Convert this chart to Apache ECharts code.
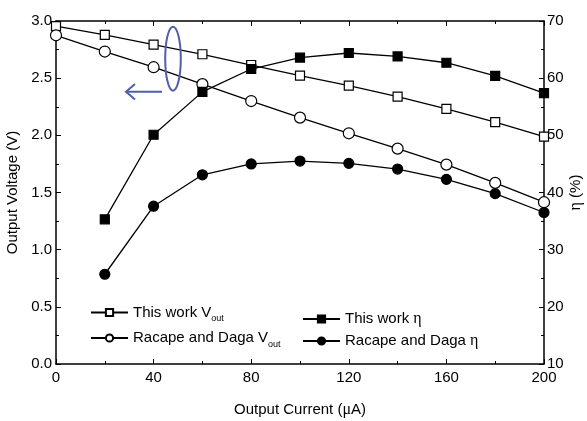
<!DOCTYPE html>
<html>
<head>
<meta charset="utf-8">
<script src="https://cdn.jsdelivr.net/npm/echarts@6/dist/echarts.min.js"></script>
<style>html,body{margin:0;padding:0;background:#fff;}#c{width:587px;height:421px;}</style>
</head>
<body>
<div id="c"></div>
<script>
const currentX = [0, 20, 40, 60, 80, 100, 120, 140, 160, 180, 200];
const thisWorkVout = [2.955, 2.878, 2.793, 2.709, 2.615, 2.522, 2.435, 2.339, 2.231, 2.115, 1.989];
const racapeVout = [2.875, 2.733, 2.596, 2.448, 2.300, 2.155, 2.018, 1.884, 1.744, 1.584, 1.415];
const etaX = [20, 40, 60, 80, 100, 120, 140, 160, 180, 200];
const thisWorkEta = [35.3, 50.1, 57.6, 61.6, 63.6, 64.4, 63.8, 62.7, 60.4, 57.4];
const racapeEta = [25.7, 37.6, 43.1, 45.0, 45.5, 45.1, 44.1, 42.3, 39.8, 36.5];
const leftTicks = { min: 0, max: 3, interval: 0.5 };
const rightTicks = { min: 10, max: 70, interval: 10 };
const xTicks = { min: 0, max: 200, interval: 40 };

const pair = (xs, ys) => xs.map((x, i) => [x, ys[i]]);
const font = 'Liberation Sans';
const serif = 'Liberation Serif';
const blue = '#4f5fa9';

const chart = echarts.init(document.getElementById('c'), null, { renderer: 'canvas' });

function axisBase(extra) {
  return Object.assign({
    axisLine: { show: true, onZero: false, lineStyle: { color: '#000', width: 1.5 } },
    axisTick: { show: true, inside: true, length: 5, lineStyle: { color: '#000', width: 1 } },
    minorTick: { show: true, splitNumber: 2, length: 3, lineStyle: { color: '#000', width: 1 } },
    splitLine: { show: false },
    nameMoveOverlap: false,
    axisLabel: { color: '#000', fontSize: 15, fontFamily: font }
  }, extra);
}

const richText = {
  s: { fontSize: 9, fontFamily: font, color: '#000', verticalAlign: 'bottom', lineHeight: 22 },
  g: { fontSize: 16, fontFamily: serif, color: '#000' }
};

const legendNames = {
  'This work Vout': 'This work V{s|out}',
  'Racape and Daga Vout': 'Racape and Daga V{s|out}',
  'This work eta': 'This work {g|η}',
  'Racape and Daga eta': 'Racape and Daga {g|η}'
};

function lineSeries(name, data, yIndex, symbol, size, filled) {
  return {
    name: name, type: 'line', xAxisIndex: 0, yAxisIndex: yIndex, data: data,
    symbol: symbol, symbolSize: size, showSymbol: true,
    lineStyle: { color: '#000', width: 1.3 },
    itemStyle: { color: filled ? '#000' : '#fff', borderColor: '#000', borderWidth: 1.2 },
    emphasis: { disabled: true }, animation: false
  };
}

chart.setOption({
  animation: false,
  backgroundColor: '#fff',
  grid: { left: 56, right: 43, top: 21, bottom: 57, containLabel: false, outerBoundsMode: 'none' },
  xAxis: [
    axisBase({
      type: 'value', position: 'bottom', min: xTicks.min, max: xTicks.max, interval: xTicks.interval,
      axisLabel: { color: '#000', fontSize: 15, fontFamily: font, margin: 6 },
      name: 'Output Current ({g|μ}A)', nameLocation: 'middle', nameGap: 38,
      nameTextStyle: { color: '#000', fontSize: 15, fontFamily: font, rich: richText }
    }),
    axisBase({
      type: 'value', position: 'top', min: xTicks.min, max: xTicks.max, interval: xTicks.interval,
      axisLabel: { show: false }
    })
  ],
  yAxis: [
    axisBase({
      type: 'value', position: 'left', min: leftTicks.min, max: leftTicks.max, interval: leftTicks.interval,
      axisLabel: { color: '#000', fontSize: 15, fontFamily: font, margin: 4, formatter: v => v.toFixed(1) },
      name: 'Output Voltage (V)', nameLocation: 'middle', nameGap: 36, nameRotate: 90,
      nameTextStyle: { color: '#000', fontSize: 15, fontFamily: font }
    }),
    axisBase({
      type: 'value', position: 'right', min: rightTicks.min, max: rightTicks.max, interval: rightTicks.interval,
      axisLabel: { color: '#000', fontSize: 15, fontFamily: font, margin: 3 },
      name: '{g|η} (%)', nameLocation: 'middle', nameGap: 24, nameRotate: 90,
      nameTextStyle: { color: '#000', fontSize: 15, fontFamily: font, rich: richText }
    })
  ],
  legend: [
    {
      data: ['This work Vout', 'Racape and Daga Vout'], orient: 'vertical', left: 85, top: 300,
      itemWidth: 37, itemHeight: 9, itemGap: 7,
      formatter: n => legendNames[n],
      textStyle: { color: '#000', fontSize: 15, fontFamily: font, rich: richText }
    },
    {
      data: ['This work eta', 'Racape and Daga eta'], orient: 'vertical', left: 297, top: 306,
      itemWidth: 37, itemHeight: 9, itemGap: 6,
      formatter: n => legendNames[n],
      textStyle: { color: '#000', fontSize: 15, fontFamily: font, rich: richText }
    }
  ],
  series: [
    lineSeries('This work Vout', pair(currentX, thisWorkVout), 0, 'rect', 9, false),
    lineSeries('Racape and Daga Vout', pair(currentX, racapeVout), 0, 'circle', 11, false),
    lineSeries('This work eta', pair(etaX, thisWorkEta), 1, 'rect', 9, true),
    lineSeries('Racape and Daga eta', pair(etaX, racapeEta), 1, 'circle', 10, true)
  ],
  graphic: [
    { type: 'ellipse', shape: { cx: 173, cy: 58.7, rx: 7.8, ry: 32 }, style: { fill: 'none', stroke: blue, lineWidth: 2 }, z: 10 },
    { type: 'polyline', shape: { points: [[162, 91.7], [126.5, 91.7]] }, style: { fill: 'none', stroke: blue, lineWidth: 2 }, z: 10 },
    { type: 'polyline', shape: { points: [[135, 84], [126, 91.7], [135, 99.5]] }, style: { fill: 'none', stroke: blue, lineWidth: 2 }, z: 10 }
  ]
});
</script>
</body>
</html>
